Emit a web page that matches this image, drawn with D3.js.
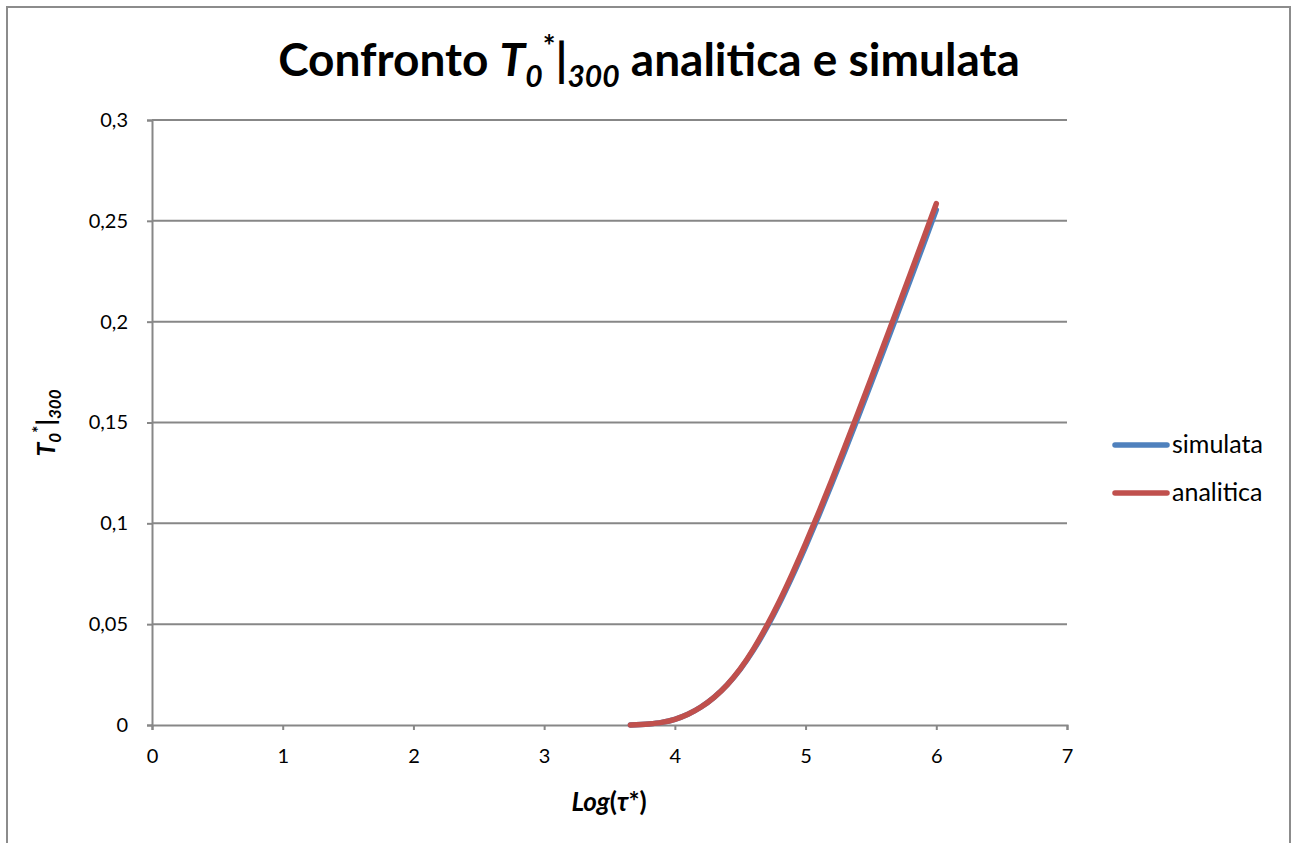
<!DOCTYPE html>
<html>
<head>
<meta charset="utf-8">
<script src="https://cdn.jsdelivr.net/npm/d3@7"></script>
<style>
  html, body { margin: 0; padding: 0; background: #fff; }
  svg { display: block; font-family: Lato, "Open Sans", sans-serif; }
</style>
</head>
<body>
<svg id="chart" width="1291" height="843"></svg>
<script>
// Log(τ*) sample positions
const logTau = [3.66, 3.8, 3.9, 4.0, 4.1, 4.2, 4.3, 4.4, 4.5, 4.6, 4.7, 4.8, 4.9, 5.0,
                5.1, 5.2, 5.3, 5.4, 5.5, 5.6, 5.7, 5.8, 5.9, 6.0];
// analytical solution T0*|300
const analitica = [0.0000, 0.0005, 0.0013, 0.0028, 0.0053, 0.0089, 0.0137, 0.0199, 0.0278,
                   0.0375, 0.0488, 0.0614, 0.0752, 0.0899, 0.1053, 0.1213, 0.1378, 0.1546,
                   0.1716, 0.1888, 0.2060, 0.2234, 0.2409, 0.2585];
// simulated T0*|300
const simulata = [0.0000, 0.0005, 0.0013, 0.0028, 0.0053, 0.0089, 0.0137, 0.0199, 0.0276,
                  0.0370, 0.0480, 0.0604, 0.0740, 0.0885, 0.1037, 0.1195, 0.1358, 0.1524,
                  0.1692, 0.1862, 0.2033, 0.2205, 0.2379, 0.2555];
const xTicks = [0, 1, 2, 3, 4, 5, 6, 7];
const yTicks = [0, 0.05, 0.1, 0.15, 0.2, 0.25, 0.3];
const seriesNames = ["simulata", "analitica"];
const seriesColors = ["#4F81BD", "#C0504D"];

const svg = d3.select("#chart");
const fmt = v => String(v).replace(".", ",");

const x = d3.scaleLinear().domain([0, 7]).range([152, 1067]);
const y = d3.scaleLinear().domain([0, 0.3]).range([725, 120]);

// chart frame
svg.append("rect")
  .attr("x", 7).attr("y", 7).attr("width", 1283).attr("height", 850)
  .attr("fill", "#fff").attr("stroke", "#8c8c8c").attr("stroke-width", 2);

// horizontal gridlines
svg.append("g")
  .selectAll("line")
  .data(yTicks.filter(d => d > 0))
  .join("line")
  .attr("x1", x(0)).attr("x2", x(7))
  .attr("y1", d => y(d)).attr("y2", d => y(d))
  .attr("stroke", "#878787").attr("stroke-width", 2);

// axes
const xAxis = svg.append("g")
  .attr("transform", `translate(0,${y(0)})`)
  .call(d3.axisBottom(x).tickValues(xTicks).tickFormat(fmt).tickSize(5).tickPadding(19));
const yAxis = svg.append("g")
  .attr("transform", `translate(${x(0)},0)`)
  .call(d3.axisLeft(y).tickValues(yTicks).tickFormat(fmt).tickSize(5).tickPadding(19));
[xAxis, yAxis].forEach(g => {
  g.select(".domain").attr("stroke", "#878787").attr("stroke-width", 2);
  g.selectAll(".tick line").attr("stroke", "#878787").attr("stroke-width", 2);
  g.selectAll(".tick text").attr("fill", "#000")
    .style("font-family", "Lato, sans-serif").style("font-size", "20px");
});

// series lines
const line = d3.line().x(d => x(d[0])).y(d => y(d[1])).curve(d3.curveMonotoneX);
[simulata, analitica].forEach((vals, i) => {
  svg.append("path")
    .datum(logTau.map((t, k) => [t, vals[k]]))
    .attr("d", line)
    .attr("fill", "none")
    .attr("stroke", seriesColors[i])
    .attr("stroke-width", 5.5)
    .attr("stroke-linecap", "round")
    .attr("stroke-linejoin", "round");
});

// legend
const legend = svg.append("g");
seriesNames.forEach((name, i) => {
  const ly = 445 + i * 48;
  legend.append("line")
    .attr("x1", 1115).attr("x2", 1167).attr("y1", ly).attr("y2", ly)
    .attr("stroke", seriesColors[i]).attr("stroke-width", 5.5).attr("stroke-linecap", "round");
  legend.append("text")
    .attr("x", 1172).attr("y", ly + 8)
    .style("font-size", "25px").attr("fill", "#000")
    .text(name);
});

// title
const title = svg.append("text")
  .attr("x", 649).attr("y", 76)
  .attr("text-anchor", "middle")
  .style("font-size", "46px").style("font-weight", "bold");
title.append("tspan").text("Confronto ");
title.append("tspan").style("font-style", "italic").text("T");
title.append("tspan").style("font-style", "italic").style("font-size", "30px").attr("dy", 11).text("0");
title.append("tspan").style("font-size", "30px").attr("dy", -30).text("*");
title.append("tspan").attr("dy", 19).text("|");
title.append("tspan").style("font-style", "italic").style("font-size", "30px").attr("dy", 11).text("300");
title.append("tspan").attr("dy", -11).text("  analitica e simulata");

// y-axis title
const yt = svg.append("text")
  .attr("transform", "translate(55,423) rotate(-90)")
  .attr("text-anchor", "middle")
  .style("font-size", "25px").style("font-weight", "bold");
yt.append("tspan").style("font-style", "italic").text("T");
yt.append("tspan").style("font-style", "italic").style("font-size", "17px").attr("dy", 6).text("0");
yt.append("tspan").style("font-size", "17px").attr("dy", -16).text("*");
yt.append("tspan").attr("dy", 10).text("|");
yt.append("tspan").style("font-style", "italic").style("font-size", "17px").attr("dy", 6).text("300");

// x-axis title
const xt = svg.append("text")
  .attr("x", 609).attr("y", 811)
  .attr("text-anchor", "middle")
  .style("font-size", "26px").style("font-weight", "bold");
xt.append("tspan").style("font-style", "italic").text("Log");
xt.append("tspan").text("(");
xt.append("tspan").style("font-style", "italic").text("τ");
xt.append("tspan").text("*)");
</script>
</body>
</html>
